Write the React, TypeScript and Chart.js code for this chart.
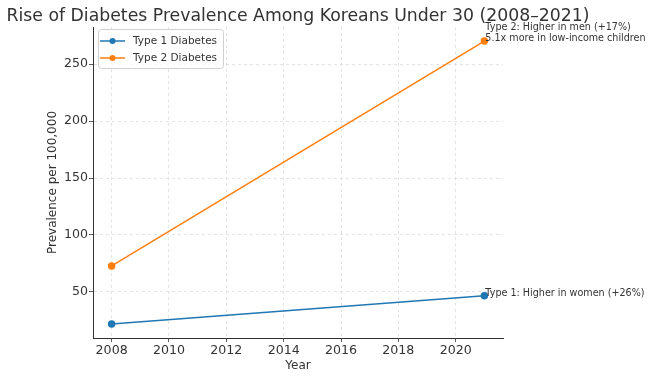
import React, { useEffect, useRef } from "react";
import { Chart, registerables } from "chart.js";

Chart.register(...registerables);

const years = [2008, 2021];
const type1 = [21.9, 46.5];
const type2 = [72.8, 270.2];
const xTicks = [2008, 2010, 2012, 2014, 2016, 2018, 2020];
const yTicks = [50, 100, 150, 200, 250];
const seriesNames = ["Type 1 Diabetes", "Type 2 Diabetes"];
const colors = ["#1f77b4", "#ff7f0e"];
const title = "Rise of Diabetes Prevalence Among Koreans Under 30 (2008\u20132021)";
const xTitle = "Year";
const yTitle = "Prevalence per 100,000";
const notes1 = ["Type 1: Higher in women (+26%)"];
const notes2 = ["Type 2: Higher in men (+17%)", "5.1x more in low-income children"];

const FONT = "'DejaVu Sans', sans-serif";
const TEXT = "#333333";

export default function App() {
  const ref = useRef<HTMLCanvasElement | null>(null);
  useEffect(() => {
    document.body.style.margin = "0";
    const canvas = ref.current!;
    const overlay = {
      id: "overlay",
      afterDraw(chart: any) {
        const ctx = chart.ctx;
        const a = chart.chartArea;
        const xs = chart.scales.x;
        const ys = chart.scales.y;
        ctx.save();
        // title
        ctx.fillStyle = TEXT;
        ctx.font = `17.3px ${FONT}`;
        ctx.textAlign = "center";
        ctx.textBaseline = "alphabetic";
        ctx.fillText(title, (a.left + a.right) / 2, 21);
        // axis titles
        ctx.font = `12px ${FONT}`;
        ctx.fillText(xTitle, (a.left + a.right) / 2, 369);
        ctx.save();
        ctx.translate(53, (a.top + a.bottom) / 2);
        ctx.rotate(-Math.PI / 2);
        ctx.textBaseline = "middle";
        ctx.fillText(yTitle, 0, 0);
        ctx.restore();
        // annotations
        ctx.font = `9.6px ${FONT}`;
        ctx.textAlign = "left";
        ctx.textBaseline = "alphabetic";
        const px1 = xs.getPixelForValue(years[1]) + 1;
        const py1 = ys.getPixelForValue(type1[1]);
        notes1.forEach((t, i) => ctx.fillText(t, px1, py1 - (notes1.length - 1 - i) * 11.5));
        const py2 = ys.getPixelForValue(type2[1]);
        notes2.forEach((t, i) => ctx.fillText(t, px1, py2 - (notes2.length - 1 - i) * 11.5));
        // legend
        const bx = a.left + 5, by = a.top + 2, bw = 125, bh = 39;
        ctx.fillStyle = "rgba(255,255,255,0.8)";
        ctx.strokeStyle = "#d0d0d0";
        ctx.lineWidth = 1;
        ctx.beginPath();
        (ctx as any).roundRect(bx + 0.5, by + 0.5, bw, bh, 3);
        ctx.fill();
        ctx.stroke();
        seriesNames.forEach((n, i) => {
          const yy = by + 12 + i * 17;
          ctx.strokeStyle = colors[i];
          ctx.lineWidth = 1.5;
          ctx.beginPath();
          ctx.moveTo(bx + 2, yy);
          ctx.lineTo(bx + 27, yy);
          ctx.stroke();
          ctx.fillStyle = colors[i];
          ctx.beginPath();
          ctx.arc(bx + 14.5, yy, 3, 0, Math.PI * 2);
          ctx.fill();
          ctx.fillStyle = TEXT;
          ctx.font = `10.5px ${FONT}`;
          ctx.textBaseline = "middle";
          ctx.fillText(n, bx + 35, yy);
        });
        ctx.restore();
      },
    };
    const mk = (vals: number[]) => years.map((y, i) => ({ x: y, y: vals[i] }));
    const chart = new Chart(canvas, {
      type: "line",
      data: {
        datasets: [
          { label: seriesNames[0], data: mk(type1), borderColor: colors[0], backgroundColor: colors[0], borderWidth: 1.5, pointRadius: 3, pointHoverRadius: 3 },
          { label: seriesNames[1], data: mk(type2), borderColor: colors[1], backgroundColor: colors[1], borderWidth: 1.5, pointRadius: 3, pointHoverRadius: 3 },
        ],
      },
      options: {
        animation: false,
        responsive: false,
        devicePixelRatio: 1,
        layout: { padding: { top: 27, right: 152, left: 0, bottom: 0 } },
        plugins: { legend: { display: false }, title: { display: false }, tooltip: { enabled: false } },
        scales: {
          x: {
            type: "linear",
            min: 2007.35,
            max: 2021.65,
            afterBuildTicks: (s: any) => { s.ticks = xTicks.map((v) => ({ value: v })); },
            afterFit: (s: any) => { s.height = 42; },
            ticks: { color: TEXT, font: { family: FONT, size: 12.6 }, padding: 1, maxRotation: 0, autoSkip: false, callback: (v: any) => String(v) },
            grid: { color: "#dddddd", tickColor: TEXT, tickLength: 4, tickBorderDash: [], lineWidth: 0.8 },
            border: { display: true, color: TEXT, width: 1, dash: [3, 3] },
          },
          y: {
            type: "linear",
            min: 9.5,
            max: 282.6,
            afterBuildTicks: (s: any) => { s.ticks = yTicks.map((v) => ({ value: v })); },
            afterFit: (s: any) => { s.width = 93; },
            ticks: { color: TEXT, font: { family: FONT, size: 12.6 }, padding: 1, callback: (v: any) => String(v) },
            grid: { color: "#dddddd", tickColor: TEXT, tickLength: 4, tickBorderDash: [], lineWidth: 0.8 },
            border: { display: true, color: TEXT, width: 1, dash: [3, 3] },
          },
        },
      },
      plugins: [overlay],
    });
    return () => chart.destroy();
  }, []);
  return <canvas ref={ref} width={655} height={380} style={{ display: "block" }} />;
}
